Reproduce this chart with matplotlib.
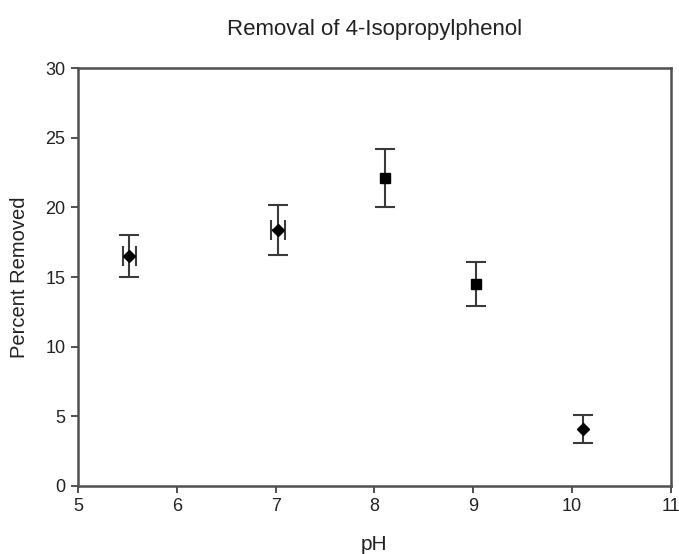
import matplotlib.pyplot as plt

plt.rcParams['font.family'] = ['Liberation Sans', 'DejaVu Sans']

# ---------------- DATA ----------------
ph = [5.52, 7.02, 8.11, 9.03, 10.11]
removed = [16.5, 18.4, 22.1, 14.5, 4.1]
y_err = [1.5, 1.8, 2.1, 1.6, 1.0]
x_err = [0.07, 0.07, 0.0, 0.0, 0.0]
markers = ["D", "D", "s", "s", "D"]

# ---------------- PLOT ----------------
fig = plt.figure(figsize=(6.79, 5.54), dpi=100)
ax = fig.add_axes([0.115, 0.123, 0.873, 0.754])

for x, y, ye, xe, m in zip(ph, removed, y_err, x_err, markers):
    ax.errorbar(x, y, yerr=ye, xerr=xe if xe > 0 else None,
                fmt=m, color="black", ms=7 if m == "s" else 6.5,
                ecolor="#3a3a3a", elinewidth=1.5, capsize=7.5, capthick=1.5)

ax.set_xlim(5, 11)
ax.set_ylim(0, 30)
ax.set_xticks(range(5, 12))
ax.set_yticks(range(0, 31, 5))

for s in ax.spines.values():
    s.set_color("#505050")
    s.set_linewidth(1.8)
ax.tick_params(direction="out", length=5, width=1.4, color="#505050",
               labelsize=13, labelcolor="#222222", pad=4)

ax.set_title("Removal of 4-Isopropylphenol", fontsize=16, pad=24, color="#222222")
ax.set_xlabel("pH", fontsize=15, labelpad=14, color="#222222")
ax.set_ylabel("Percent Removed", fontsize=14.5, labelpad=12, color="#222222")

plt.savefig("out.png")
plt.close()
